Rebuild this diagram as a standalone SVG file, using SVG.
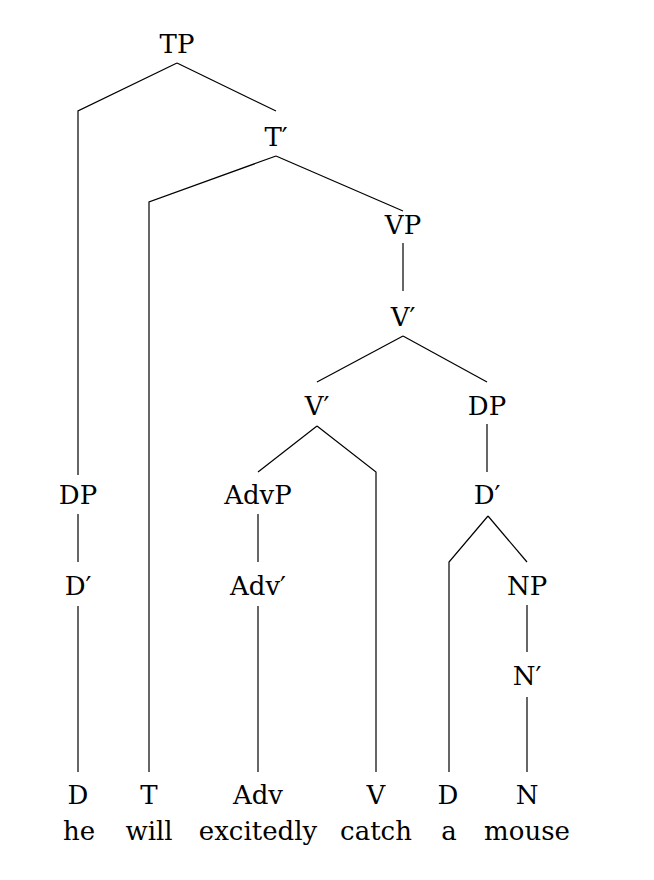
<svg xmlns="http://www.w3.org/2000/svg" width="654" height="880" viewBox="0 0 654 880">
<style>
.e{fill:none;stroke:#000;stroke-width:1.2;stroke-linejoin:miter}
.t{font-family:"DejaVu Serif","Liberation Serif",serif;font-size:26px;text-anchor:middle;fill:#000}
</style>
<rect width="654" height="880" fill="#fff"/>
<g id="connectors">
<polyline class="e" points="177,63 78,111 78,475"/>
<polyline class="e" points="177,63 276,111"/>
<polyline class="e" points="276,156 149,202 149,772"/>
<polyline class="e" points="276,156 403,211"/>
<polyline class="e" points="403,243 403,291"/>
<polyline class="e" points="403,336 317,382"/>
<polyline class="e" points="403,336 487,382"/>
<polyline class="e" points="317,426 258,472"/>
<polyline class="e" points="317,426 376,472 376,772"/>
<polyline class="e" points="487,424 487,472"/>
<polyline class="e" points="488,516 449,562 449,772"/>
<polyline class="e" points="488,516 527,562"/>
<polyline class="e" points="527,605 527,652"/>
<polyline class="e" points="527,697 527,772"/>
<polyline class="e" points="78,514 78,562"/>
<polyline class="e" points="78,606 78,772"/>
<polyline class="e" points="258,514 258,562"/>
<polyline class="e" points="258,606 258,772"/>
</g>
<g class="t">
<g id="n-TP"><text x="177" y="53">TP</text></g>
<g id="n-Tbar"><text x="276" y="146">T′</text></g>
<g id="n-VP"><text x="403" y="234">VP</text></g>
<g id="n-Vbar1"><text x="403" y="326">V′</text></g>
<g id="n-Vbar2"><text x="317" y="415">V′</text></g>
<g id="n-DP2"><text x="487" y="415">DP</text></g>
<g id="n-DP1"><text x="78" y="504">DP</text></g>
<g id="n-Dbar1"><text x="78" y="595">D′</text></g>
<g id="n-AdvP"><text x="258" y="504">AdvP</text></g>
<g id="n-Advbar"><text x="258" y="595">Adv′</text></g>
<g id="n-Dbar2"><text x="487" y="504">D′</text></g>
<g id="n-NP"><text x="527" y="595">NP</text></g>
<g id="n-Nbar"><text x="527" y="685">N′</text></g>
<g id="n-D1"><text x="78" y="804">D</text><text x="79" y="840">he</text></g>
<g id="n-T"><text x="149" y="804">T</text><text x="149" y="840">will</text></g>
<g id="n-Adv"><text x="258" y="804">Adv</text><text x="258" y="840">excitedly</text></g>
<g id="n-V"><text x="376" y="804">V</text><text x="376" y="840">catch</text></g>
<g id="n-D2"><text x="448" y="804">D</text><text x="449" y="840">a</text></g>
<g id="n-N"><text x="527" y="804">N</text><text x="527" y="840">mouse</text></g>
</g>
</svg>
